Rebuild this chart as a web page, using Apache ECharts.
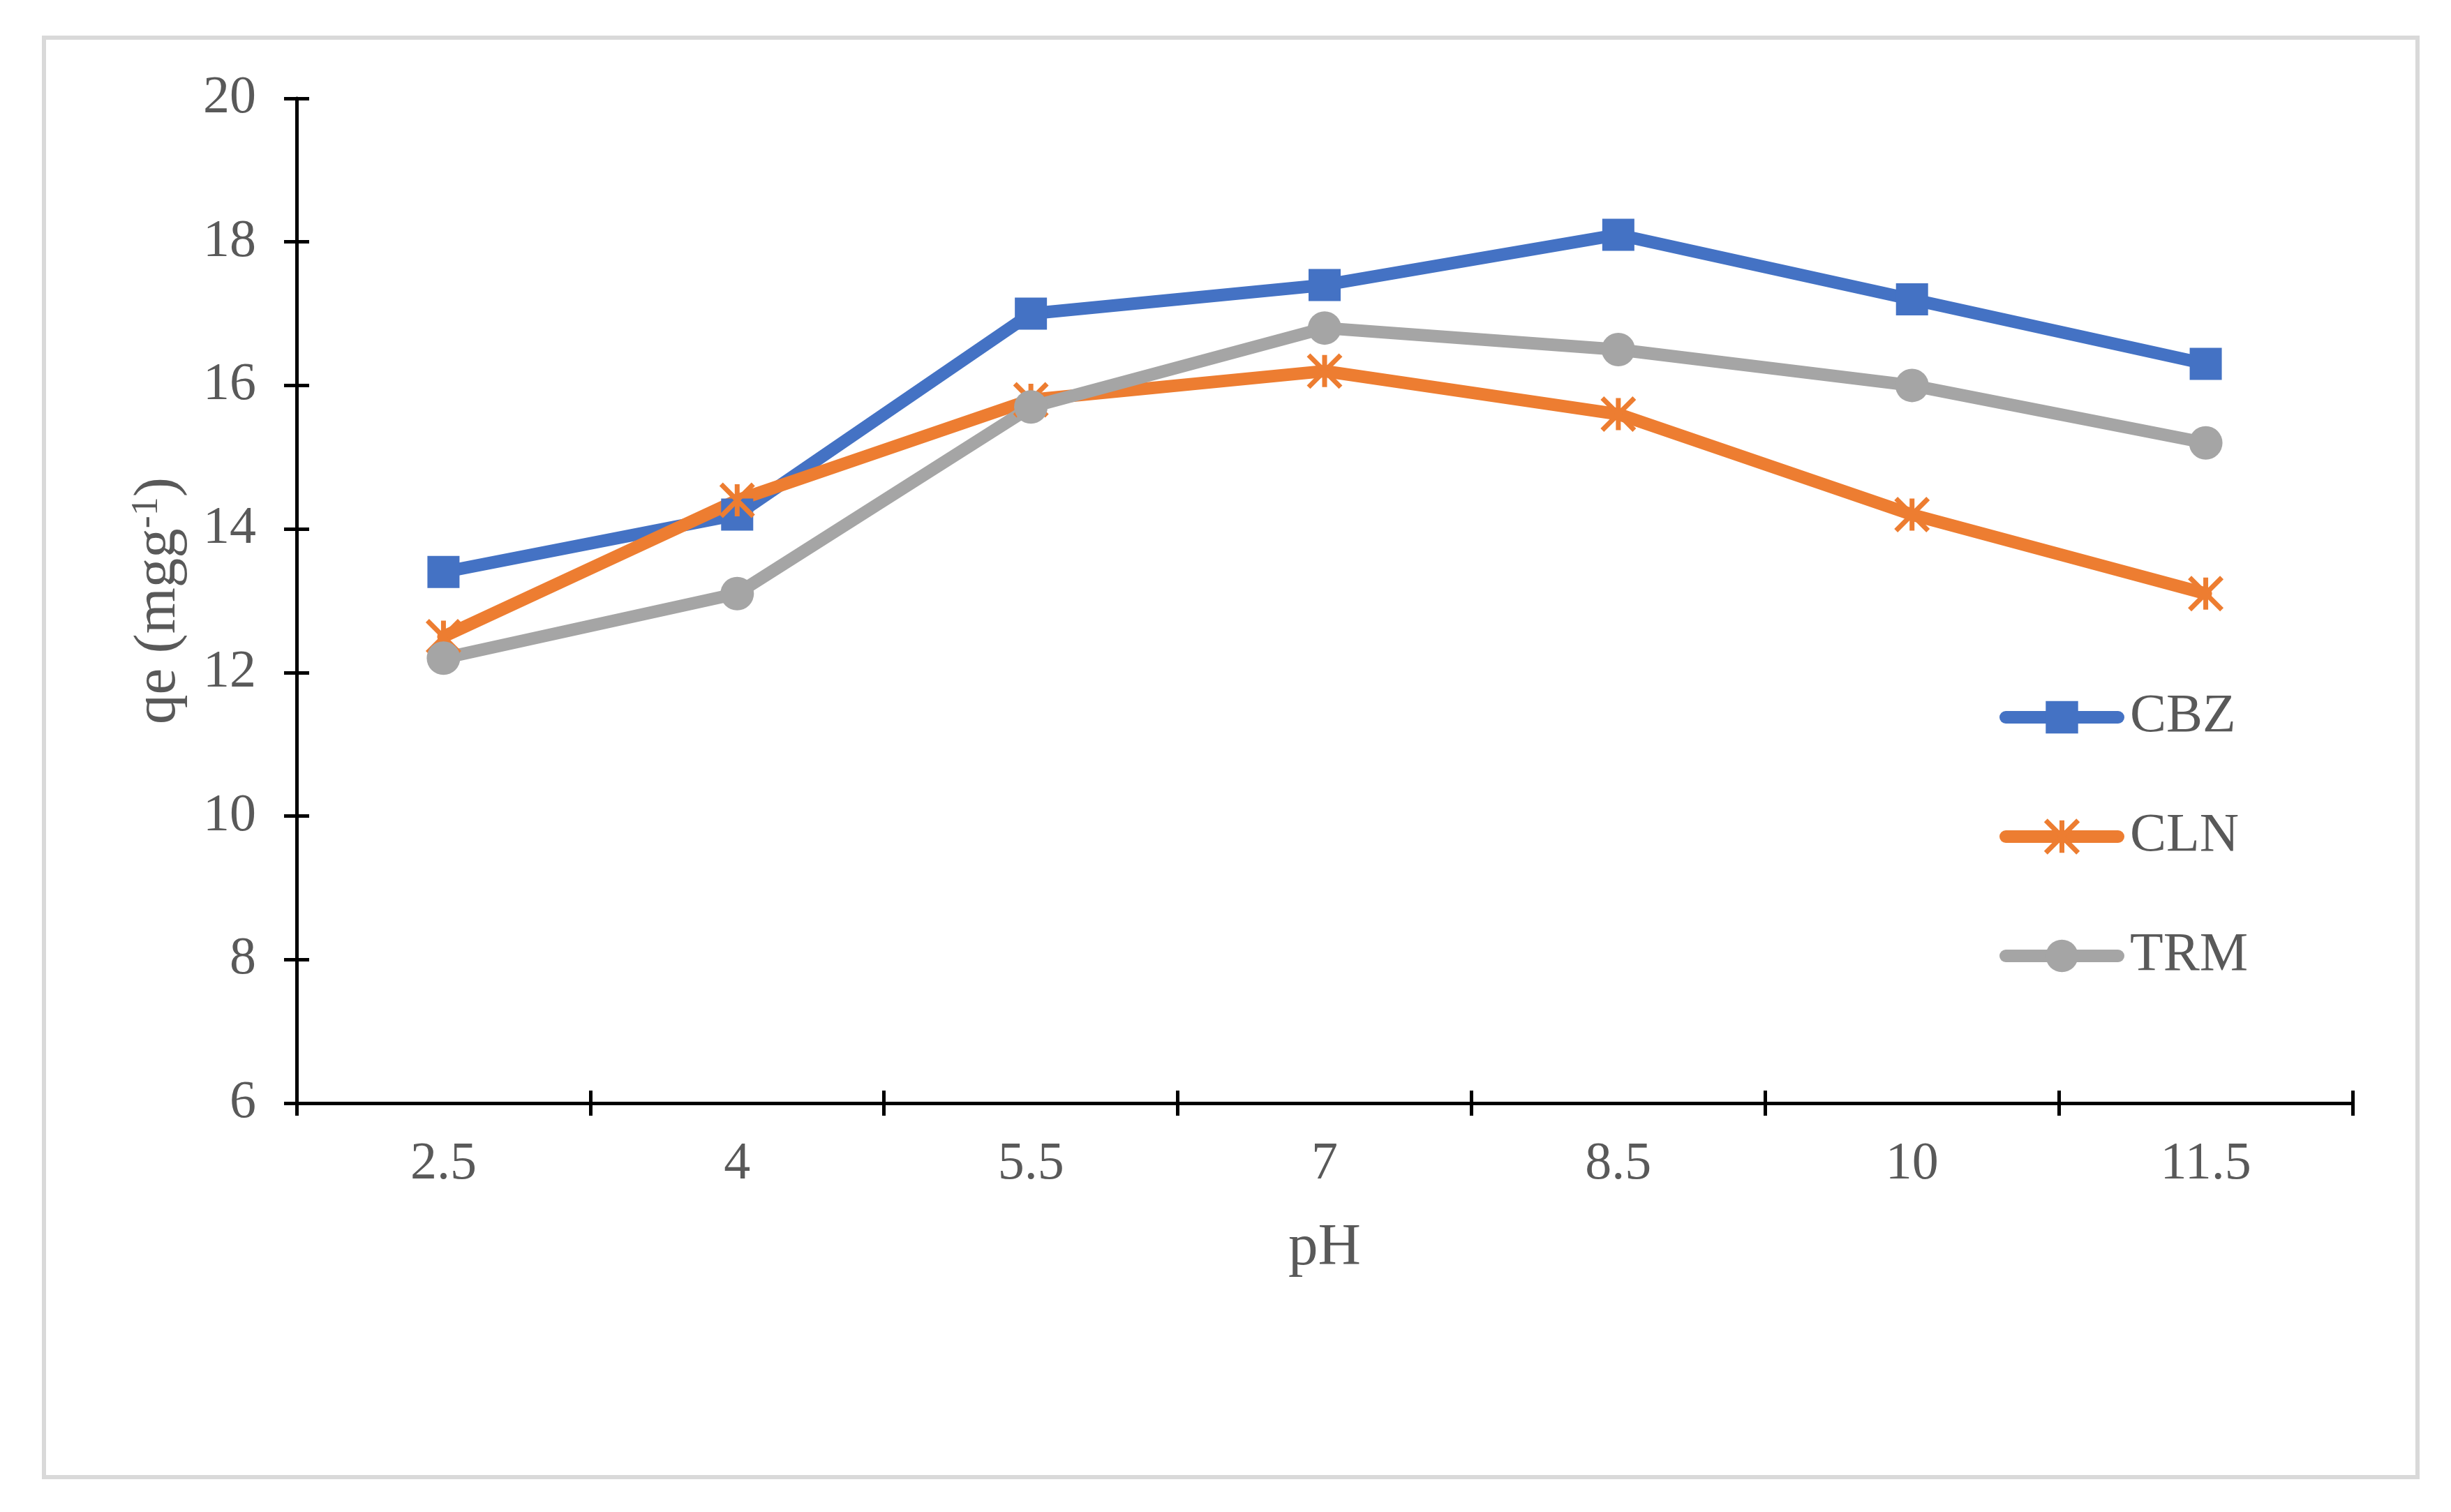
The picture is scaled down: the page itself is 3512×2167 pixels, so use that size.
<!DOCTYPE html>
<html>
<head>
<meta charset="utf-8">
<script src="https://cdn.jsdelivr.net/npm/echarts@6/dist/echarts.min.js"></script>
<style>
html,body{margin:0;padding:0;background:#fff;}
#chart{width:3512px;height:2167px;}
</style>
</head>
<body>
<div id="chart"></div>
<script>
const categories = ['2.5', '4', '5.5', '7', '8.5', '10', '11.5'];
const cbz = [13.4, 14.2, 17.0, 17.4, 18.1, 17.2, 16.3];
const cln = [12.5, 14.4, 15.8, 16.2, 15.6, 14.2, 13.1];
const trm = [12.2, 13.1, 15.7, 16.8, 16.5, 16.0, 15.2];
const yMin = 6, yMax = 20, yStep = 2;

const FONT = '"Liberation Serif", "Times New Roman", serif';
const TXT = '#595959';
const asterisk = 'path://M50 0 L50 100 M0 0 L100 100 M100 0 L0 100';

const chart = echarts.init(document.getElementById('chart'));
const axisLine = { show: true, lineStyle: { color: '#000', width: 5 } };
const grid = { left: 425, right: 141, top: 141, bottom: 586 };

chart.setOption({
  backgroundColor: '#fff',
  animation: false,
  textStyle: { fontFamily: FONT },
  graphic: [{
    type: 'rect', silent: true,
    shape: { x: 63, y: 54, width: 3401, height: 2063 },
    style: { fill: 'none', stroke: '#d9d9d9', lineWidth: 6 }
  }],
  grid: grid,
  legend: {
    orient: 'vertical',
    left: 2865, top: 1028 - 39,
    padding: 0,
    itemWidth: 161, itemHeight: 58, itemGap: 93,
    lineStyle: { width: 18, cap: 'round' },
    textStyle: { fontFamily: FONT, fontSize: 78, color: TXT, padding: [0, 0, 0, 12] },
    data: [
      { name: 'CBZ' },
      { name: 'CLN', itemStyle: { borderWidth: 7, borderColor: '#ED7D31' } },
      { name: 'TRM' }
    ]
  },
  xAxis: [{
    type: 'category', data: categories, position: 'bottom',
    boundaryGap: true,
    axisLine: axisLine,
    axisTick: { show: true, inside: false, length: 18, lineStyle: { color: '#000', width: 5 } },
    axisLabel: { fontFamily: FONT, fontSize: 76, color: TXT, margin: 50 },
    name: 'pH', nameLocation: 'middle', nameGap: 166,
    nameTextStyle: { fontFamily: FONT, fontSize: 85, color: TXT },
    splitLine: { show: false }
  }, {
    type: 'category', data: categories, position: 'bottom',
    boundaryGap: true,
    axisLine: { show: false },
    axisTick: { show: true, inside: true, length: 18, lineStyle: { color: '#000', width: 5 } },
    axisLabel: { show: false },
    splitLine: { show: false }
  }],
  yAxis: [{
    type: 'value', min: yMin, max: yMax, interval: yStep, position: 'left',
    axisLine: axisLine,
    axisTick: { show: true, inside: false, length: 18, lineStyle: { color: '#000', width: 5 } },
    axisLabel: { fontFamily: FONT, fontSize: 76, color: TXT, margin: 58 },
    splitLine: { show: false },
    name: 'qe (mgg{sup|-1})', nameLocation: 'middle', nameGap: 153, nameRotate: 90,
    nameTextStyle: {
      fontFamily: FONT, fontSize: 85, color: TXT,
      rich: { sup: { fontFamily: FONT, fontSize: 54, color: TXT, verticalAlign: 'top', padding: [0, 0, 34, 0] } }
    }
  }, {
    type: 'value', min: yMin, max: yMax, interval: yStep, position: 'left',
    axisLine: { show: false },
    axisTick: { show: true, inside: true, length: 18, lineStyle: { color: '#000', width: 5 } },
    axisLabel: { show: false },
    splitLine: { show: false }
  }],
  series: [{
    name: 'CBZ', type: 'line', data: cbz,
    symbol: 'rect', symbolSize: 46,
    lineStyle: { color: '#4472C4', width: 18, cap: 'round', join: 'round' },
    itemStyle: { color: '#4472C4' }
  }, {
    name: 'CLN', type: 'line', data: cln,
    symbol: asterisk, symbolSize: 46,
    lineStyle: { color: '#ED7D31', width: 18, cap: 'round', join: 'round' },
    itemStyle: { color: '#ED7D31', borderColor: '#ED7D31', borderWidth: 7 }
  }, {
    name: 'TRM', type: 'line', data: trm,
    symbol: 'circle', symbolSize: 48,
    lineStyle: { color: '#A5A5A5', width: 18, cap: 'round', join: 'round' },
    itemStyle: { color: '#A5A5A5' }
  }]
});
</script>
</body>
</html>
